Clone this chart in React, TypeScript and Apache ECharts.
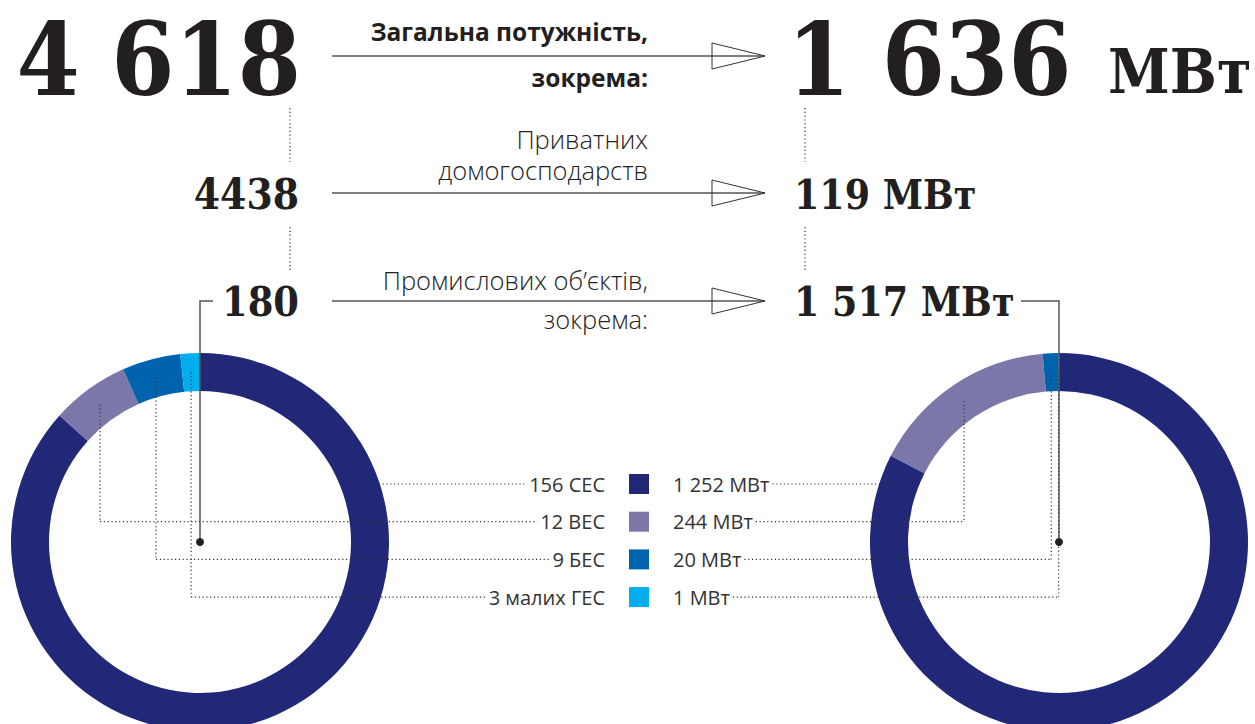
import React, { useEffect, useRef } from "react";
import * as echarts from "echarts";

// ---- data ----
const typeLabelsLeft = ["156 СЕС", "12 ВЕС", "9 БЕС", "3 малих ГЕС"];
const typeLabelsRight = ["1 252 МВт", "244 МВт", "20 МВт", "1 МВт"];
const typeNames = ["СЕС", "ВЕС", "БЕС", "малих ГЕС"];
const countValues = [156, 12, 9, 3];
const powerValues = [1252, 244, 20, 1];
const sliceColors = ["#212878", "#7b78a9", "#0063ae", "#00aeef"];

const totalCount = "4 618";
const totalPower = "1 636";
const householdCount = "4438";
const householdPower = "119";
const industrialCount = "180";
const industrialPower = "1 517";
const unit = "МВт";

const headTitle = "Загальна потужність,";
const headSub = "зокрема:";
const householdLabel = ["Приватних", "домогосподарств"];
const industrialLabel = ["Промислових об’єктів,", "зокрема:"];

export default function App() {
  const ref = useRef<HTMLDivElement>(null);

  useEffect(() => {
    const chart = echarts.init(ref.current!, null, { renderer: "svg" });
    const serif = '"DejaVu Serif Condensed", "DejaVu Serif", serif';
    const sans = '"Open Sans", "Noto Sans", sans-serif';
    const ink = "#231f20";
    const L = { cx: 200, cy: 542 };
    const R = { cx: 1059, cy: 542 };
    const rIn = 151;
    const rOut = 189;
    const rMid = 170;

    const ctx = document.createElement("canvas").getContext("2d")!;
    const measure = (t: string, size: number, weight: string | number) => {
      ctx.font = `${weight} ${size}px "Open Sans", "Noto Sans", sans-serif`;
      return ctx.measureText(t).width;
    };

    const els: any[] = [];
    const text = (
      t: string,
      x: number,
      y: number,
      size: number,
      family: string,
      weight: string | number,
      align: string = "left",
      fill: string = ink
    ) =>
      els.push({
        type: "text",
        x,
        y,
        silent: true,
        style: {
          text: t,
          fontSize: size,
          fontFamily: family,
          fontWeight: weight,
          lineHeight: size,
          fill,
          textAlign: align,
          textVerticalAlign: "middle",
        },
      });
    const line = (x1: number, y1: number, x2: number, y2: number, dotted: boolean) =>
      els.push({
        type: "line",
        silent: true,
        shape: { x1, y1, x2, y2 },
        style: dotted
          ? { stroke: "#333", lineWidth: 1.2, lineDash: [1.2, 2.6] }
          : { stroke: "#555", lineWidth: 1.5 },
      });
    const arrow = (y: number) => {
      line(332, y, 765, y, false);
      els.push({
        type: "polygon",
        silent: true,
        shape: { points: [[712, y - 13], [765, y], [712, y + 13]] },
        style: { fill: "#fff", fillOpacity: 0, stroke: "#333", lineWidth: 1 },
      });
    };

    // header row
    text(totalCount, 301, 59, 101, serif, "bold", "right");
    text(totalPower, 787, 59, 101, serif, "bold", "left");
    text(unit, 1108, 71, 62, serif, "bold", "left");
    text(headTitle, 648, 31.5, 24.5, sans, "bold", "right");
    text(headSub, 648, 77.5, 24.5, sans, "bold", "right");
    arrow(56);

    // households
    line(290, 108, 290, 162, true);
    line(805, 108, 805, 162, true);
    text(householdLabel[0], 648, 138.5, 25.5, sans, 300, "right", "#222");
    text(householdLabel[1], 648, 169.5, 25.5, sans, 300, "right", "#222");
    text(householdCount, 299, 194, 42, serif, "bold", "right");
    text(`${householdPower} ${unit}`, 794, 194.5, 40.5, serif, "bold", "left");
    arrow(193);

    // industrial
    line(290, 227, 290, 270, true);
    line(805, 227, 805, 270, true);
    text(industrialLabel[0], 648, 279.5, 25.5, sans, 300, "right", "#222");
    text(industrialLabel[1], 648, 319, 25.5, sans, 300, "right", "#222");
    text(industrialCount, 299, 302, 41, serif, "bold", "right");
    text(`${industrialPower} ${unit}`, 794, 301.5, 40.5, serif, "bold", "left");
    arrow(301);

    // solid connectors to donut centres
    els.push({
      type: "polyline",
      silent: true,
      shape: { points: [[213, 301], [L.cx, 301], [L.cx, L.cy]] },
      style: { stroke: "#555", lineWidth: 1.5, fill: null },
    });
    els.push({
      type: "polyline",
      silent: true,
      shape: { points: [[1021, 301], [R.cx, 301], [R.cx, R.cy]] },
      style: { stroke: "#555", lineWidth: 1.5, fill: null },
    });

    // legend rows and leaders
    const rowY = (i: number) => 484 + i * 37.7;
    const midPoint = (vals: number[], i: number, c: { cx: number; cy: number }) => {
      const total = vals.reduce((a, b) => a + b, 0);
      let before = 0;
      for (let k = 0; k < i; k++) before += vals[k];
      const theta = ((before + vals[i] / 2) / total) * Math.PI * 2;
      return { x: c.cx + rMid * Math.sin(theta), y: c.cy - rMid * Math.cos(theta) };
    };

    typeNames.forEach((_, i) => {
      const y = rowY(i);
      const lw = measure(typeLabelsLeft[i], 20, 400);
      const leftEnd = 605 - lw - 3;
      text(typeLabelsLeft[i], 605, y, 20, sans, 400, "right", "#333");
      els.push({
        type: "rect",
        silent: true,
        shape: { x: 629, y: y - 10, width: 20, height: 20 },
        style: { fill: sliceColors[i] },
      });
      const rw = measure(typeLabelsRight[i], 20, 400);
      const rightStart = 673 + rw + 3;
      text(typeLabelsRight[i], 673, y, 20, sans, 400, "left", "#333");

      if (i === 0) {
        const dx = Math.sqrt(rMid * rMid - (y - L.cy) * (y - L.cy));
        line(L.cx + dx, y, leftEnd, y, true);
        line(rightStart, y, R.cx - dx, y, true);
      } else {
        const p = midPoint(countValues, i, L);
        line(p.x, p.y, p.x, y, true);
        line(p.x, y, leftEnd, y, true);
        const q = midPoint(powerValues, i, R);
        line(q.x, q.y, q.x, y, true);
        line(rightStart, y, q.x, y, true);
      }
    });

    // centre dots
    els.push({ type: "circle", silent: true, shape: { cx: L.cx, cy: L.cy, r: 4 }, style: { fill: ink } });
    els.push({ type: "circle", silent: true, shape: { cx: R.cx, cy: R.cy, r: 4 }, style: { fill: ink } });

    const pie = (vals: number[], c: { cx: number; cy: number }, names: string[]) => ({
      type: "pie",
      center: [c.cx, c.cy],
      radius: [rIn, rOut],
      startAngle: 90,
      clockwise: true,
      silent: true,
      label: { show: false },
      labelLine: { show: false },
      emphasis: { disabled: true },
      itemStyle: { borderWidth: 0 },
      z: 1,
      data: vals.map((v, i) => ({ value: v, name: names[i], itemStyle: { color: sliceColors[i] } })),
    });

    chart.setOption({
      animation: false,
      backgroundColor: "#ffffff",
      series: [pie(countValues, L, typeLabelsLeft), pie(powerValues, R, typeLabelsRight)],
      graphic: { elements: els.map((e) => ({ ...e, z: 10 })) },
    });

    return () => chart.dispose();
  }, []);

  return (
    <div
      ref={ref}
      style={{ position: "fixed", left: 0, top: 0, width: 1255, height: 724 }}
    />
  );
}
